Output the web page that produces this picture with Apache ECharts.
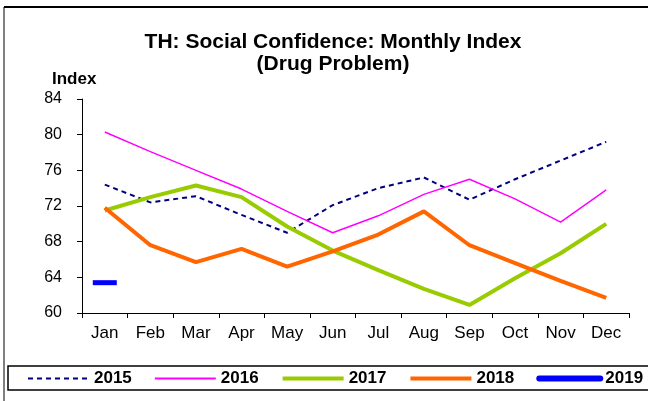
<!DOCTYPE html>
<html>
<head>
<meta charset="utf-8">
<script src="https://cdn.jsdelivr.net/npm/echarts@6/dist/echarts.min.js"></script>
<style>
  html, body { margin: 0; padding: 0; background: #fff; }
  #chart { width: 648px; height: 401px; }
</style>
</head>
<body>
<div id="chart"></div>
<script>
const months = ['Jan', 'Feb', 'Mar', 'Apr', 'May', 'Jun', 'Jul', 'Aug', 'Sep', 'Oct', 'Nov', 'Dec'];
const y2015 = [74.4, 72.4, 73.1, 71.0, 69.0, 72.1, 74.0, 75.2, 72.7, 75.0, 77.1, 79.2];
const y2016 = [80.3, 78.1, 76.0, 73.9, 71.4, 69.0, 70.9, 73.3, 75.0, 72.8, 70.2, 73.8];
const y2017 = [71.5, 73.0, 74.3, 73.0, 69.7, 67.0, 64.8, 62.7, 60.9, 63.9, 66.7, 70.0];
const y2018 = [71.8, 67.6, 65.7, 67.2, 65.2, 66.9, 68.8, 71.4, 67.6, 65.6, 63.6, 61.7];
const y2019 = [63.4];

const font = '"Liberation Sans", Arial, sans-serif';

const chart = echarts.init(document.getElementById('chart'));

chart.setOption({
  animation: false,
  textStyle: { fontFamily: font, color: '#000' },
  title: [
    {
      text: 'TH: Social Confidence: Monthly Index\n(Drug Problem)',
      left: 328,
      top: 26,
      textAlign: 'center',
      textStyle: { fontSize: 21, fontWeight: 'bold', lineHeight: 22, color: '#000', fontFamily: font }
    },
    {
      text: 'Index',
      left: 47,
      top: 66,
      textStyle: { fontSize: 17, fontWeight: 'bold', color: '#000', fontFamily: font }
    }
  ],
  grid: { left: 82, right: 19, top: 99, bottom: 88, containLabel: false },
  legend: {
    left: 27,
    top: 370,
    padding: 0,
    itemWidth: 61,
    itemHeight: 14,
    itemGap: 22,
    itemStyle: { opacity: 0 },
    data: [
      { name: '2015', lineStyle: { width: 2 } },
      { name: '2016', lineStyle: { width: 2 } },
      { name: '2017', lineStyle: { width: 4 } },
      { name: '2018', lineStyle: { width: 4 } },
      { name: '2019', lineStyle: { width: 6 } }
    ],
    textStyle: { fontSize: 17, fontWeight: 'bold', color: '#000', fontFamily: font }
  },
  xAxis: {
    type: 'category',
    data: months,
    boundaryGap: true,
    axisLine: { lineStyle: { color: '#000', width: 1 } },
    axisTick: { show: true, length: 5, lineStyle: { color: '#000' } },
    axisLabel: { fontSize: 17, color: '#000', margin: 12, fontFamily: font }
  },
  yAxis: {
    type: 'value',
    min: 60,
    max: 84,
    interval: 4,
    axisLine: { show: true, lineStyle: { color: '#000', width: 1 } },
    axisTick: { show: true, length: 5, lineStyle: { color: '#000' } },
    splitLine: { show: false },
    axisLabel: { fontSize: 16, color: '#000', margin: 20, fontFamily: font }
  },
  graphic: [
    { type: 'line', shape: { x1: 4, y1: 7, x2: 660, y2: 7 }, style: { stroke: '#000', lineWidth: 2 } },
    { type: 'line', shape: { x1: 4, y1: 7, x2: 4, y2: 410 }, style: { stroke: '#000', lineWidth: 1 } },
    { type: 'rect', shape: { x: 8, y: 366, width: 700, height: 24 }, style: { fill: 'none', stroke: '#000', lineWidth: 1.5 }, z: -1 }
  ],
  series: [
    {
      name: '2015', type: 'line', data: y2015, symbol: 'none',
      itemStyle: { color: '#000080' },
      lineStyle: { color: '#000080', width: 2, type: [5, 4] }
    },
    {
      name: '2016', type: 'line', data: y2016, symbol: 'none',
      itemStyle: { color: '#ff00ff' },
      lineStyle: { color: '#ff00ff', width: 1.5 }
    },
    {
      name: '2017', type: 'line', data: y2017, symbol: 'none',
      itemStyle: { color: '#99cc00' },
      lineStyle: { color: '#99cc00', width: 4 }
    },
    {
      name: '2018', type: 'line', data: y2018, symbol: 'none',
      itemStyle: { color: '#ff6600' },
      lineStyle: { color: '#ff6600', width: 4 }
    },
    {
      name: '2019', type: 'line', data: y2019, symbol: 'none',
      itemStyle: { color: '#0000ff' },
      lineStyle: { color: '#0000ff', width: 6, cap: 'round' }
    },
    {
      name: '2019 mark', type: 'scatter', data: y2019,
      symbol: 'rect', symbolSize: [24, 5],
      itemStyle: { color: '#0000ff', opacity: 1 }
    }
  ]
});
</script>
</body>
</html>
